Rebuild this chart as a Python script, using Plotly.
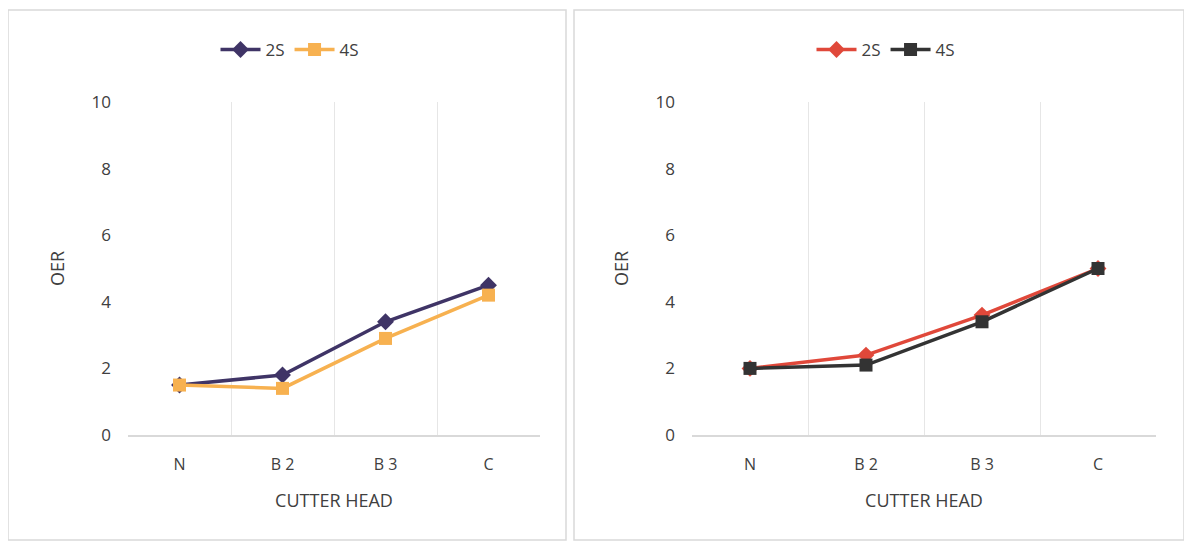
import plotly.graph_objects as go

categories = ["N", "B 2", "B 3", "C"]
left_2s = [1.5, 1.8, 3.4, 4.5]
left_4s = [1.5, 1.4, 2.9, 4.2]
right_2s = [2.0, 2.4, 3.6, 5.0]
right_4s = [2.0, 2.1, 3.4, 5.0]
series_names = ["2S", "4S"]
y_ticks = [0, 2, 4, 6, 8, 10]

OFF = 8  # page body margin
W, H = 1192 - OFF, 547 - OFF
FONT = "Open Sans"
TXT = "#404040"

fig = go.Figure()

def add(y, name, color, symbol, xa, ya, legend):
    fig.add_trace(go.Scatter(
        x=categories, y=y, name=name, mode="lines+markers",
        line=dict(color=color, width=3.5),
        marker=dict(symbol=symbol, size=13, color=color),
        xaxis=xa, yaxis=ya, legend=legend))

add(left_2s, series_names[0], "#3f3466", "diamond", "x", "y", "legend")
add(left_4s, series_names[1], "#f7b150", "square", "x", "y", "legend")
add(right_2s, series_names[0], "#e0483a", "diamond", "x2", "y2", "legend2")
add(right_4s, series_names[1], "#333333", "square", "x2", "y2", "legend2")

def px_x(p): return (p - OFF) / W
def px_y(p): return (H - (p - OFF)) / H

ydom = [px_y(435), px_y(102)]

xcommon = dict(type="category", range=[-0.5, 3.5], tickson="boundaries",
               showgrid=True, gridcolor="#e6e6e6", gridwidth=1,
               showline=True, linecolor="#d9d9d9", linewidth=1.5,
               ticks="", tickfont=dict(family=FONT, size=16, color=TXT),
               ticklabelstandoff=14,
               title=dict(text="CUTTER HEAD", font=dict(family=FONT, size=18, color=TXT), standoff=20),
               zeroline=False, fixedrange=True, automargin=False)
ycommon = dict(range=[0, 10], tickvals=y_ticks, showgrid=False, zeroline=False,
               showline=False, ticks="", tickfont=dict(family=FONT, size=17, color=TXT),
               title=dict(text="OER", font=dict(family=FONT, size=18, color=TXT), standoff=22),
               ticklabelstandoff=16, fixedrange=True, automargin=False)

legfont = dict(family=FONT, size=17, color=TXT)

fig.update_layout(
    width=W, height=H,
    margin=dict(l=0, r=0, t=0, b=0, autoexpand=False),
    paper_bgcolor="white", plot_bgcolor="white",
    font=dict(family=FONT, color=TXT),
    xaxis=dict(domain=[px_x(128), px_x(540)], anchor="y", **xcommon),
    yaxis=dict(domain=ydom, anchor="x", **ycommon),
    xaxis2=dict(domain=[px_x(692), px_x(1156)], anchor="y2", **xcommon),
    yaxis2=dict(domain=ydom, anchor="x2", **ycommon),
    legend=dict(orientation="h", x=px_x(290), y=px_y(50), xanchor="center", yanchor="middle",
                font=legfont, bgcolor="rgba(0,0,0,0)", itemwidth=40, tracegroupgap=0),
    legend2=dict(orientation="h", x=px_x(886), y=px_y(50), xanchor="center", yanchor="middle",
                 font=legfont, bgcolor="rgba(0,0,0,0)", itemwidth=40, tracegroupgap=0),
    showlegend=True,
    shapes=[
        dict(type="rect", xref="paper", yref="paper",
             x0=px_x(8), x1=px_x(566), y0=px_y(540), y1=px_y(10),
             line=dict(color="#d9d9d9", width=1.5)),
        dict(type="rect", xref="paper", yref="paper",
             x0=px_x(574), x1=px_x(1184), y0=px_y(540), y1=px_y(10),
             line=dict(color="#d9d9d9", width=1.5)),
    ],
)

fig.write_html("out.html")
